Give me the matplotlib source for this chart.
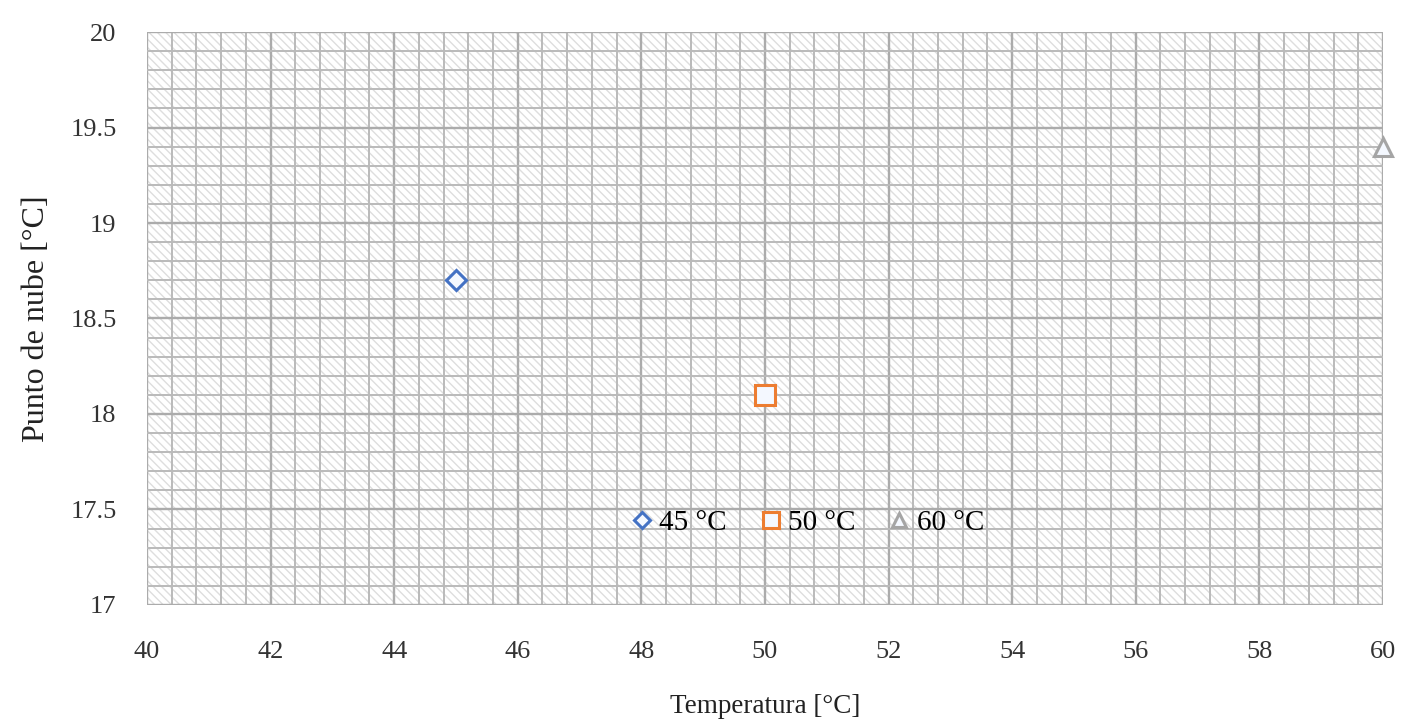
import numpy as np
import matplotlib.pyplot as plt
from matplotlib.patches import Rectangle
from matplotlib.ticker import MultipleLocator

plt.rcParams['font.family'] = ['Liberation Serif', 'DejaVu Serif']
plt.rcParams['hatch.linewidth'] = 1.0
plt.rcParams['hatch.color'] = '#dedede'

# data
labels = ['45 °C', '50 °C', '60 °C']
temp = [45, 50, 60]
cloud = [18.7, 18.1, 19.4]
colors = ['#4472C4', '#ED7D31', '#A5A5A5']
markers = ['D', 's', '^']
sizes = [10, 14, 13]

fig = plt.figure(figsize=(14.04, 7.28), dpi=100)
ax = fig.add_axes([0.1047, 0.169, 0.8803, 0.787])

ax.set_xlim(40, 60)
ax.set_ylim(17, 20)
ax.xaxis.set_major_locator(MultipleLocator(2))
ax.xaxis.set_minor_locator(MultipleLocator(0.4))
ax.yaxis.set_major_locator(MultipleLocator(0.5))
ax.yaxis.set_minor_locator(MultipleLocator(0.1))

# patterned plot area
ax.add_patch(Rectangle((0, 0), 1, 1, transform=ax.transAxes, facecolor='white',
                       hatch='\\\\\\\\', edgecolor='#dedede', linewidth=0, zorder=0))

ax.grid(which='major', color='#ababab', linewidth=1.7, zorder=1)
ax.grid(which='minor', color='#bababa', linewidth=1.4, zorder=1)
ax.set_axisbelow(True)

for i in range(3):
    ax.plot(temp[i], cloud[i], linestyle='none', marker=markers[i], markersize=sizes[i],
            markerfacecolor='#f4f8ff', markeredgecolor=colors[i], markeredgewidth=2.2,
            label=labels[i], clip_on=False, zorder=5)

for s in ax.spines.values():
    s.set_visible(False)
ax.tick_params(which='both', length=0)
ax.tick_params(axis='x', pad=26, labelsize=19, labelcolor='#333333')
ax.tick_params(axis='y', pad=22, labelsize=19, labelcolor='#333333')
ax.yaxis.set_major_formatter(plt.FuncFormatter(lambda v, p: f'{v:g}'))

ax.set_xlabel('Temperatura [°C]', fontsize=19.5, color='#222222', labelpad=22)
ax.set_ylabel('Punto de nube [°C]', fontsize=23, color='#222222', labelpad=14)

leg = ax.legend(loc='center', bbox_to_anchor=(0.533, 0.143), ncol=3, frameon=False,
                fontsize=21, handletextpad=0.1, columnspacing=1.0, markerscale=0.8,
                handlelength=1.0)

fig.savefig('out.png', dpi=100)
